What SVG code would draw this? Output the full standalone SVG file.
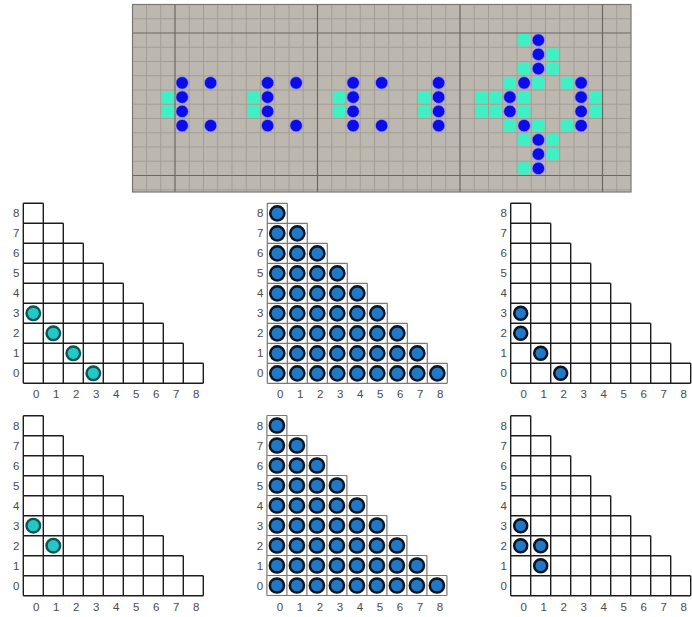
<svg xmlns="http://www.w3.org/2000/svg" xmlns:xlink="http://www.w3.org/1999/xlink" width="692" height="617" viewBox="0 0 692 617">
<style>
.minor{stroke:#a29e96;stroke-width:1;fill:none}
.major{stroke:#6a6864;stroke-width:1.2;fill:none}
.tri{fill:#fff;stroke:#1c1c1c;stroke-width:1.4}
.trif{fill:#fff;stroke:#7f776c;stroke-width:1.2}
.lab{font-family:"Liberation Sans",Arial,sans-serif;font-size:11.5px;fill:#4a4a4a;text-anchor:middle}
.cy{fill:#22c8c5;stroke:#0e5252;stroke-width:2.4}
.bl{fill:#1f79c6;stroke:#08131f;stroke-width:2.5}
</style>
<defs>
<circle id="b" r="6.3" fill="#0c0ce8" stroke="#a0a0ff" stroke-width="0.8"/>
<rect id="g" x="-6.2" y="-6.2" width="12.4" height="12.4" rx="2.5" fill="#3ef0c4"/>
<circle id="dc" r="6.8" class="cy"/>
<circle id="db" r="6.5" class="bl"/>
<circle id="df" r="7.1" class="bl" stroke-width="2.7"/>
<path id="stair" d="M0 0H20M0 20H40M0 40H60M0 60H80M0 80H100M0 100H120M0 120H140M0 140H160M0 160H180M0 180H180M0 0V180M20 0V180M40 20V180M60 40V180M80 60V180M100 80V180M120 100V180M140 120V180M160 140V180M180 160V180"/>
<path id="stairbg" d="M0 0H20V20H40V40H60V60H80V80H100V100H120V120H140V140H160V160H180V180H0Z"/>
<g id="labels" class="lab">
<text x="-7" y="14">8</text><text x="-7" y="34">7</text><text x="-7" y="54">6</text><text x="-7" y="74">5</text><text x="-7" y="94">4</text><text x="-7" y="114">3</text><text x="-7" y="134">2</text><text x="-7" y="154">1</text><text x="-7" y="174">0</text>
<text x="13" y="195">0</text><text x="33" y="195">1</text><text x="53" y="195">2</text><text x="73" y="195">3</text><text x="93" y="195">4</text><text x="113" y="195">5</text><text x="133" y="195">6</text><text x="153" y="195">7</text><text x="173" y="195">8</text>
</g>
<g id="emptygrid">
<use href="#stairbg" fill="#fff"/>
<use href="#stair" class="tri" fill="none"/>
<use href="#labels"/>
</g>
<g id="fullgrid">
<use href="#stairbg" fill="#fff"/>
<use href="#stair" class="trif" fill="none"/>
<use href="#labels"/>
<use href="#df" x="10" y="170"/><use href="#df" x="30" y="170"/><use href="#df" x="50" y="170"/><use href="#df" x="70" y="170"/><use href="#df" x="90" y="170"/><use href="#df" x="110" y="170"/><use href="#df" x="130" y="170"/><use href="#df" x="150" y="170"/><use href="#df" x="170" y="170"/>
<use href="#df" x="10" y="150"/><use href="#df" x="30" y="150"/><use href="#df" x="50" y="150"/><use href="#df" x="70" y="150"/><use href="#df" x="90" y="150"/><use href="#df" x="110" y="150"/><use href="#df" x="130" y="150"/><use href="#df" x="150" y="150"/>
<use href="#df" x="10" y="130"/><use href="#df" x="30" y="130"/><use href="#df" x="50" y="130"/><use href="#df" x="70" y="130"/><use href="#df" x="90" y="130"/><use href="#df" x="110" y="130"/><use href="#df" x="130" y="130"/>
<use href="#df" x="10" y="110"/><use href="#df" x="30" y="110"/><use href="#df" x="50" y="110"/><use href="#df" x="70" y="110"/><use href="#df" x="90" y="110"/><use href="#df" x="110" y="110"/>
<use href="#df" x="10" y="90"/><use href="#df" x="30" y="90"/><use href="#df" x="50" y="90"/><use href="#df" x="70" y="90"/><use href="#df" x="90" y="90"/>
<use href="#df" x="10" y="70"/><use href="#df" x="30" y="70"/><use href="#df" x="50" y="70"/><use href="#df" x="70" y="70"/>
<use href="#df" x="10" y="50"/><use href="#df" x="30" y="50"/><use href="#df" x="50" y="50"/>
<use href="#df" x="10" y="30"/><use href="#df" x="30" y="30"/>
<use href="#df" x="10" y="10"/>
</g>
</defs>
<rect width="692" height="617" fill="#fff"/>

<g id="pattern-board">
<rect x="132.5" y="4.5" width="498.5" height="187.5" fill="#bcb8b0"/>
<path class="minor" d="M146.5 4.5V192M160.75 4.5V192M189.25 4.5V192M203.5 4.5V192M217.75 4.5V192M232 4.5V192M246.25 4.5V192M260.5 4.5V192M274.75 4.5V192M289 4.5V192M303.25 4.5V192M331.75 4.5V192M346 4.5V192M360.25 4.5V192M374.5 4.5V192M388.75 4.5V192M403 4.5V192M417.25 4.5V192M431.5 4.5V192M445.75 4.5V192M474.25 4.5V192M488.5 4.5V192M502.75 4.5V192M517 4.5V192M531.25 4.5V192M545.5 4.5V192M559.75 4.5V192M574 4.5V192M588.25 4.5V192M616.75 4.5V192M132.5 18.75H631M132.5 47.25H631M132.5 61.5H631M132.5 75.75H631M132.5 90H631M132.5 104.25H631M132.5 118.5H631M132.5 132.75H631M132.5 147H631M132.5 161.25H631M132.5 189.75H631"/>
<path class="major" d="M175 4.5V192M317.5 4.5V192M460 4.5V192M602.5 4.5V192M132.5 33H631M132.5 175.5H631"/>
<rect x="132.5" y="4.5" width="498.5" height="187.5" fill="none" stroke="#7a7772" stroke-width="1.2"/>
<g id="greens">
<use href="#g" x="167.875" y="97.125"/><use href="#g" x="167.875" y="111.375"/>
<use href="#g" x="253.375" y="97.125"/><use href="#g" x="253.375" y="111.375"/>
<use href="#g" x="338.875" y="97.125"/><use href="#g" x="338.875" y="111.375"/>
<use href="#g" x="424.375" y="97.125"/><use href="#g" x="424.375" y="111.375"/>
<use href="#g" x="524.125" y="40.125"/>
<use href="#g" x="552.625" y="54.375"/>
<use href="#g" x="524.125" y="68.625"/><use href="#g" x="552.625" y="68.625"/>
<use href="#g" x="509.875" y="82.875"/><use href="#g" x="538.375" y="82.875"/><use href="#g" x="566.875" y="82.875"/>
<use href="#g" x="481.375" y="97.125"/><use href="#g" x="495.625" y="97.125"/><use href="#g" x="524.125" y="97.125"/><use href="#g" x="595.375" y="97.125"/>
<use href="#g" x="481.375" y="111.375"/><use href="#g" x="495.625" y="111.375"/><use href="#g" x="524.125" y="111.375"/><use href="#g" x="595.375" y="111.375"/>
<use href="#g" x="509.875" y="125.625"/><use href="#g" x="538.375" y="125.625"/><use href="#g" x="566.875" y="125.625"/>
<use href="#g" x="524.125" y="139.875"/><use href="#g" x="552.625" y="139.875"/>
<use href="#g" x="552.625" y="154.125"/>
<use href="#g" x="524.125" y="168.375"/>
</g>
<g id="blues">
<use href="#b" x="182.125" y="82.875"/><use href="#b" x="182.125" y="97.125"/><use href="#b" x="182.125" y="111.375"/><use href="#b" x="182.125" y="125.625"/>
<use href="#b" x="210.625" y="82.875"/><use href="#b" x="210.625" y="125.625"/>
<use href="#b" x="267.625" y="82.875"/><use href="#b" x="267.625" y="97.125"/><use href="#b" x="267.625" y="111.375"/><use href="#b" x="267.625" y="125.625"/>
<use href="#b" x="296.125" y="82.875"/><use href="#b" x="296.125" y="125.625"/>
<use href="#b" x="353.125" y="82.875"/><use href="#b" x="353.125" y="97.125"/><use href="#b" x="353.125" y="111.375"/><use href="#b" x="353.125" y="125.625"/>
<use href="#b" x="381.625" y="82.875"/><use href="#b" x="381.625" y="125.625"/>
<use href="#b" x="438.625" y="82.875"/><use href="#b" x="438.625" y="97.125"/><use href="#b" x="438.625" y="111.375"/><use href="#b" x="438.625" y="125.625"/>
<use href="#b" x="538.375" y="40.125"/><use href="#b" x="538.375" y="54.375"/><use href="#b" x="538.375" y="68.625"/>
<use href="#b" x="524.125" y="82.875"/><use href="#b" x="581.125" y="82.875"/>
<use href="#b" x="509.875" y="97.125"/><use href="#b" x="581.125" y="97.125"/>
<use href="#b" x="509.875" y="111.375"/><use href="#b" x="581.125" y="111.375"/>
<use href="#b" x="524.125" y="125.625"/><use href="#b" x="581.125" y="125.625"/>
<use href="#b" x="538.375" y="139.875"/><use href="#b" x="538.375" y="154.125"/><use href="#b" x="538.375" y="168.375"/>
</g>
</g>

<g id="tri-top-left" transform="translate(23.3 203.3)">
<use href="#emptygrid"/>
<use href="#dc" x="10" y="110"/><use href="#dc" x="30" y="130"/><use href="#dc" x="50" y="150"/><use href="#dc" x="70" y="170"/>
</g>
<g id="tri-top-middle" transform="translate(267.3 203.3)">
<use href="#fullgrid"/>
</g>
<g id="tri-top-right" transform="translate(510.7 203.3)">
<use href="#emptygrid"/>
<use href="#db" x="10" y="110"/><use href="#db" x="10" y="130"/><use href="#db" x="30" y="150"/><use href="#db" x="50" y="170"/>
</g>
<g id="tri-bottom-left" transform="translate(23.3 415.7)">
<use href="#emptygrid"/>
<use href="#dc" x="10" y="110"/><use href="#dc" x="30" y="130"/>
</g>
<g id="tri-bottom-middle" transform="translate(266.9 415.5)">
<use href="#fullgrid"/>
</g>
<g id="tri-bottom-right" transform="translate(510.7 415.7)">
<use href="#emptygrid"/>
<use href="#db" x="10" y="110"/><use href="#db" x="10" y="130"/><use href="#db" x="30" y="130"/><use href="#db" x="30" y="150"/>
</g>
</svg>
